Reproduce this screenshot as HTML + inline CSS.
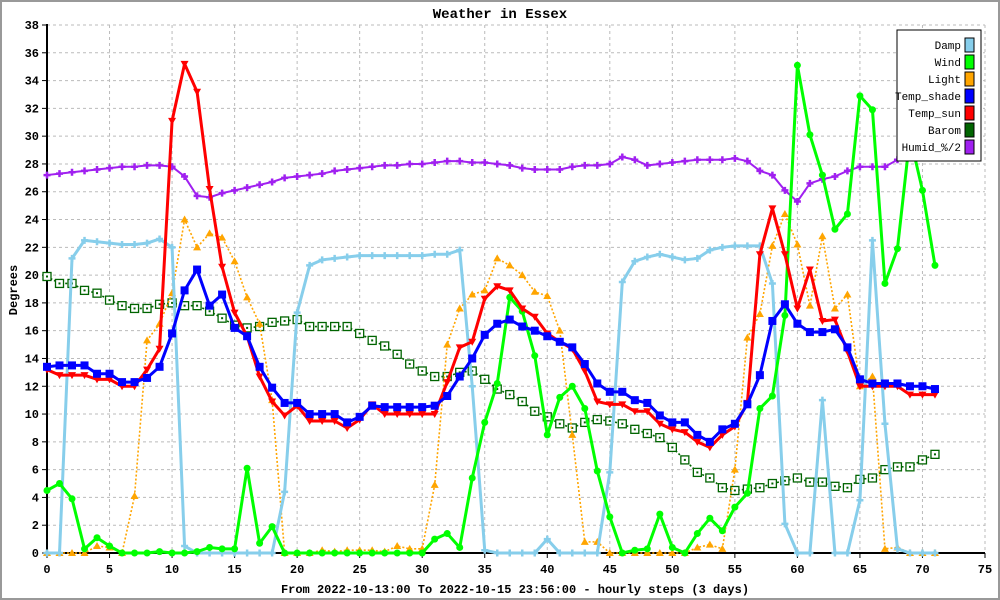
<!DOCTYPE html>
<html><head><meta charset="utf-8"><style>
html,body{margin:0;padding:0;background:#fff}
svg{display:block}
text{font-family:"Liberation Mono","DejaVu Sans Mono",monospace;font-weight:bold}
</style></head><body>
<svg id="chart" width="1000" height="600" viewBox="0 0 1000 600">
<rect x="1" y="1" width="998" height="598" fill="#fff" stroke="#999" stroke-width="2"/>
<text x="500" y="18" text-anchor="middle" font-size="14">Weather in Essex</text>
<text transform="translate(17,290) rotate(-90)" text-anchor="middle" font-size="12">Degrees</text>
<text x="515" y="593" text-anchor="middle" font-size="12">From 2022-10-13:00 To 2022-10-15 23:56:00 - hourly steps (3 days)</text>
<g id="grid"></g><g id="axes"></g><g id="series"></g><g id="legend"></g>
</svg>
<script>
const xTicks=[0,5,10,15,20,25,30,35,40,45,50,55,60,65,70,75];
const yTicks=[0,2,4,6,8,10,12,14,16,18,20,22,24,26,28,30,32,34,36,38];
const seriesNames=["Damp","Wind","Light","Temp_shade","Temp_sun","Barom","Humid_%/2"];
const damp=[0,0,21.2,22.5,22.4,22.3,22.2,22.2,22.3,22.6,22.0,0.5,0,0,0,0,0,0,0,4.4,17.3,20.7,21.1,21.2,21.3,21.4,21.4,21.4,21.4,21.4,21.4,21.5,21.5,21.8,12.0,0.2,0,0,0,0,1.0,0,0,0,0,5.8,19.5,21.0,21.3,21.5,21.3,21.1,21.2,21.8,22.0,22.1,22.1,22.1,19.4,2.1,0,0,11.0,0,0,3.8,22.5,9.3,0.3,0,0,0];
const wind=[4.5,5.0,3.9,0.3,1.1,0.5,0,0,0,0.1,0,0,0.1,0.4,0.3,0.3,6.1,0.7,1.9,0,0,0,0,0,0,0,0,0,0,0,0,1.0,1.4,0.4,5.4,9.4,12.2,18.4,17.4,14.2,8.5,11.2,12.0,10.4,5.9,2.6,0,0.2,0.3,2.8,0.4,0,1.4,2.5,1.6,3.3,4.3,10.4,11.3,17.1,35.1,30.1,27.2,23.3,24.4,32.9,31.9,19.4,21.9,30.0,26.1,20.7];
const light=[0,0,0,0,0.5,0.4,0,4.1,15.3,16.5,18.7,24.0,22.0,23.0,22.7,21.0,18.4,16.5,11.0,0,0,0,0.2,0.1,0.2,0.2,0.2,0.1,0.5,0.3,0.3,4.9,15.0,17.6,18.6,18.9,21.2,20.7,20.0,18.8,18.5,16.0,8.5,0.8,0.8,0,0,0,0,0,0,0,0.4,0.6,0.3,6.0,15.5,17.2,22.1,24.4,22.2,17.8,22.8,17.6,18.6,12.0,12.7,0.3,0.4,0,0,0];
const tempShade=[13.4,13.5,13.5,13.5,12.9,12.9,12.3,12.3,12.6,13.4,15.8,18.9,20.4,17.8,18.6,16.2,15.6,13.4,11.9,10.8,10.8,10.0,10.0,10.0,9.4,9.8,10.6,10.5,10.5,10.5,10.5,10.6,11.3,12.7,14.0,15.7,16.5,16.8,16.3,16.0,15.6,15.2,14.8,13.6,12.2,11.6,11.6,11.0,10.8,9.9,9.4,9.4,8.5,8.0,8.9,9.3,10.7,12.8,16.7,17.9,16.5,15.9,15.9,16.1,14.8,12.5,12.2,12.2,12.2,12.0,12.0,11.8];
const tempSun=[13.2,12.8,12.8,12.8,12.5,12.5,12.0,12.0,13.2,14.7,31.1,35.2,33.2,26.2,20.6,17.3,15.6,12.7,10.9,9.9,10.6,9.5,9.5,9.5,9.0,9.6,10.7,10.0,10.0,10.0,10.0,10.0,12.3,14.8,15.2,18.3,19.2,18.9,17.6,17.0,15.8,15.2,14.7,13.1,10.9,10.7,10.7,10.2,10.2,9.3,8.9,8.7,8.0,7.6,8.5,9.1,10.8,21.5,24.8,21.5,17.6,20.4,16.7,16.8,14.5,12.0,12.0,12.0,12.0,11.4,11.4,11.4];
const barom=[19.9,19.4,19.4,18.9,18.7,18.2,17.8,17.6,17.6,17.9,18.0,17.8,17.8,17.4,16.9,16.4,16.2,16.3,16.6,16.7,16.8,16.3,16.3,16.3,16.3,15.8,15.3,14.9,14.3,13.6,13.1,12.7,12.7,13.0,13.1,12.5,11.8,11.4,10.9,10.2,9.8,9.3,9.0,9.4,9.6,9.5,9.3,8.9,8.6,8.3,7.6,6.7,5.8,5.4,4.7,4.5,4.6,4.7,5.0,5.2,5.4,5.1,5.1,4.8,4.7,5.3,5.4,6.0,6.2,6.2,6.7,7.1];
const humid=[27.2,27.3,27.4,27.5,27.6,27.7,27.8,27.8,27.9,27.9,27.8,27.1,25.7,25.6,25.9,26.1,26.3,26.5,26.7,27.0,27.1,27.2,27.3,27.5,27.6,27.7,27.8,27.9,27.9,28.0,28.0,28.1,28.2,28.2,28.1,28.1,28.0,27.9,27.7,27.6,27.6,27.6,27.8,27.9,27.9,28.0,28.5,28.3,27.9,28.0,28.1,28.2,28.3,28.3,28.3,28.4,28.2,27.5,27.2,26.1,25.3,26.6,26.9,27.1,27.5,27.8,27.8,27.8,28.3,29.0,29.5,30.0];

const NS="http://www.w3.org/2000/svg";
const X0=47,X1=985,Y0=553,Y1=25;
function xs(v){return X0+(X1-X0)*v/75;}
function ys(v){return Y0-(Y0-Y1)*v/38;}
function mk(tag,attrs,parent){const e=document.createElementNS(NS,tag);for(const k in attrs)e.setAttribute(k,attrs[k]);parent.appendChild(e);return e;}
const grid=document.getElementById('grid'),axes=document.getElementById('axes'),ser=document.getElementById('series'),leg=document.getElementById('legend');

yTicks.forEach(t=>{
  if(t>0){const g=mk('line',{x1:X0,x2:X1,y1:ys(t),y2:ys(t),stroke:'#bbb','stroke-dasharray':'3,3'},grid);
  
  }
  const tk=mk('line',{x1:X0-5,x2:X0,y1:ys(t),y2:ys(t),stroke:'#000'},axes);
  
  
  const l=mk('text',{x:X0-8,y:ys(t)+4,'text-anchor':'end','font-size':'12'},axes);l.textContent=t;
  
  
});
xTicks.forEach(t=>{
  if(t>0){const g=mk('line',{x1:xs(t),x2:xs(t),y1:Y1,y2:Y0,stroke:'#bbb','stroke-dasharray':'3,3'},grid);
  
  }
  const tk=mk('line',{x1:xs(t),x2:xs(t),y1:Y0,y2:Y0+5,stroke:'#000'},axes);
  
  
  const l=mk('text',{x:xs(t),y:Y0+20,'text-anchor':'middle','font-size':'12'},axes);l.textContent=t;
  
  
});
const ya=mk('line',{x1:X0,x2:X0,y1:Y1-1,y2:Y0,stroke:'#000','stroke-width':2},axes);


const xa=mk('line',{x1:X0,x2:X1,y1:Y0,y2:Y0,stroke:'#000','stroke-width':2},axes);



function marker(type,x,y,color,g){
  let e;
  if(type==='circle')e=mk('circle',{cx:x,cy:y,r:3.5,fill:color},g);
  else if(type==='tup')e=mk('polygon',{points:`${x},${y-4} ${x-4},${y+3} ${x+4},${y+3}`,fill:color},g);
  else if(type==='tdown')e=mk('polygon',{points:`${x-4},${y-3} ${x+4},${y-3} ${x},${y+4}`,fill:color},g);
  else if(type==='square')e=mk('rect',{x:x-4,y:y-4,width:8,height:8,fill:color},g);
  else if(type==='osq'){e=mk('rect',{x:x-4,y:y-4,width:8,height:8,fill:'#fff',stroke:color,'stroke-width':1.3},g);
    const d=mk('rect',{x:x-1,y:y-1,width:2,height:2,fill:color},g);
    
    }
  else e=mk('path',{d:`M${x-3.5},${y}H${x+3.5}M${x},${y-3.5}V${y+3.5}`,stroke:color,'stroke-width':2.5},g);
  
  
}
function drawSeries(name,data,color,width,dash,mtype){
  const g=mk('g',{},ser);
  
  
  const pts=data.map((v,i)=>xs(i)+','+ys(v)).join(' ');
  const a={points:pts,fill:'none',stroke:color,'stroke-width':width,'stroke-linejoin':'round'};
  if(dash)a['stroke-dasharray']=dash;
  const pl=mk('polyline',a,g);
  
  
  data.forEach((v,i)=>marker(mtype,xs(i),ys(v),color,g));
}
drawSeries('Barom',barom,'#006400',1.6,'2,2','osq');
drawSeries('Light',light,'#ffa500',1.6,'2,2','tup');
drawSeries('Damp',damp,'#87ceeb',3,null,'cross');
drawSeries('Humid',humid,'#a020f0',2,null,'cross');
drawSeries('Wind',wind,'#00ff00',3,null,'circle');
drawSeries('Temp_sun',tempSun,'#ff0000',3,null,'tdown');
drawSeries('Temp_shade',tempShade,'#0000ff',3,null,'square');

const colors=["#87ceeb","#00ff00","#ffa500","#0000ff","#ff0000","#006400","#a020f0"];
const box=mk('rect',{x:897,y:30,width:84,height:131,fill:'#fff',stroke:'#000','stroke-width':1},leg);


seriesNames.forEach((n,i)=>{
  const y=38+i*17;
  const t=mk('text',{x:961,y:y+11,'text-anchor':'end','font-size':'11','font-weight':'normal'},leg);t.textContent=n;
  t.style.fontWeight='normal';
  
  
  const r=mk('rect',{x:965,y:y,width:9,height:14,fill:colors[i],stroke:'#000','stroke-width':1},leg);
  
  
});
</script>
</body></html>
